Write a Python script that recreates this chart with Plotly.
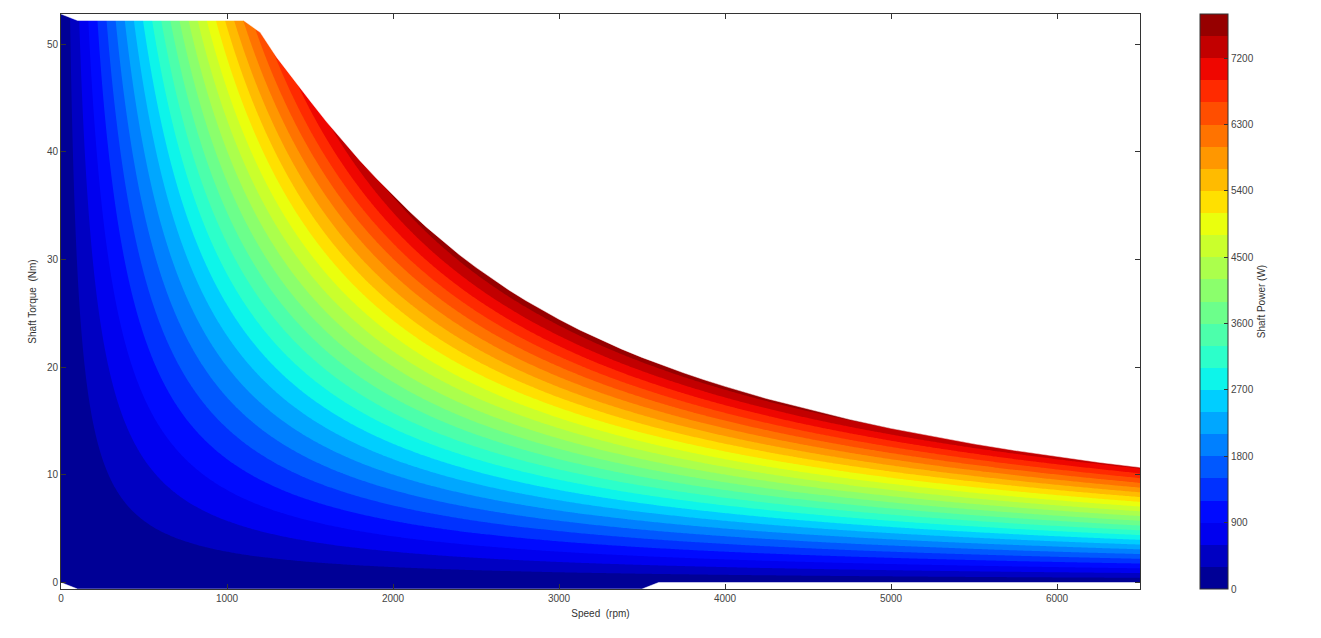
import numpy as np
import plotly.graph_objects as go

# ---- data ----
# upper edge of the operating envelope (max shaft torque, Nm, vs speed, rpm)
env_speed = [0, 100, 1100, 1200, 1300, 1400, 1500, 1600, 1700, 1800, 1900, 2000,
             2100, 2200, 2300, 2400, 2500, 2600, 2700, 2800, 2900, 3000, 3125, 3250,
             3375, 3500, 3625, 3750, 3875, 4000, 4250, 4500, 4750, 5000, 5250, 5500,
             5750, 6000, 6250, 6500]
env_torque_max = [52.8, 52.2, 52.2, 51.1, 48.77, 46.72, 44.75, 42.79, 40.95, 39.2, 37.54, 35.95,
                  34.45, 33.03, 31.69, 30.44, 29.27, 28.17, 27.15, 26.19, 25.29, 24.45, 23.46, 22.55,
                  21.7, 20.91, 20.17, 19.48, 18.83, 18.22, 17.09, 16.09, 15.16, 14.32, 13.57, 12.88,
                  12.26, 11.68, 11.17, 10.7]
# lower edge of the envelope
low_speed = [0, 100, 3500, 3600, 6500]
low_torque = [0.0, -0.6, -0.6, 0.0, 0.0]

power_start, power_end, power_step = 0, 7800, 300
cbar_ticks = [0, 900, 1800, 2700, 3600, 4500, 5400, 6300, 7200]
x_ticks = [0, 1000, 2000, 3000, 4000, 5000, 6000]
y_ticks = [0, 10, 20, 30, 40, 50]
speed_range = [0, 6500]
torque_range = [-0.6, 52.8]

# ---- shaft power field P = T * omega ----
speed = np.linspace(speed_range[0], speed_range[1], 521)
torque = np.linspace(torque_range[0], torque_range[1], 357)
power = np.outer(torque, speed) * 2 * np.pi / 60.0


# matplotlib 'jet' colormap
def jet(v):
    v = min(max(v, 0.0), 1.0)
    r = np.interp(v, [0, 0.35, 0.66, 0.89, 1], [0, 0, 1, 1, 0.5])
    g = np.interp(v, [0, 0.125, 0.375, 0.64, 0.91, 1], [0, 0, 1, 1, 0, 0])
    b = np.interp(v, [0, 0.11, 0.34, 0.65, 1], [0.5, 1, 1, 0, 0])
    return "rgb(%d,%d,%d)" % (round(r * 255), round(g * 255), round(b * 255))


span = power_end - power_start
nband = int(span / power_step)

# colorscale for the contour fills (plotly samples it at band mid-points)
nlev = nband + 1
contour_scale = []
for k in range(nlev + 1):
    mid = power_start - power_step / 2 + k * power_step
    mid = min(max(mid, power_start + power_step / 2), power_end - power_step / 2)
    contour_scale.append([k / nlev, jet((mid - power_start) / span)])

# stepped colorscale for the colour bar (0 .. 7800, 26 bands)
bar_scale = []
for i in range(nband):
    c = jet((i + 0.5) / nband)
    bar_scale.append([i / nband, c])
    bar_scale.append([(i + 1) / nband, c])

font_family = "Liberation Sans, Arial, sans-serif"

fig = go.Figure()
fig.add_trace(go.Contour(
    x=speed, y=torque, z=power,
    contours=dict(start=power_start, end=power_end, size=power_step,
                  coloring="fill", showlines=False),
    line=dict(width=0),
    colorscale=contour_scale,
    showscale=False,
    hoverinfo="skip",
))

# white masks outside the operating envelope
top_pad = torque_range[1] + 10
bot_pad = torque_range[0] - 10
fig.add_trace(go.Scatter(
    x=env_speed + [speed_range[1], speed_range[0]],
    y=env_torque_max + [top_pad, top_pad],
    fill="toself", fillcolor="white", mode="lines",
    line=dict(width=0.5, color="white"), hoverinfo="skip", showlegend=False))
fig.add_trace(go.Scatter(
    x=low_speed + [speed_range[1], speed_range[0]],
    y=low_torque + [bot_pad, bot_pad],
    fill="toself", fillcolor="white", mode="lines",
    line=dict(width=0.5, color="white"), hoverinfo="skip", showlegend=False))

# colour bar carrier (invisible markers)
fig.add_trace(go.Scatter(
    x=[speed_range[0], speed_range[0]], y=[torque_range[0], torque_range[0]],
    mode="markers", hoverinfo="skip", showlegend=False,
    marker=dict(size=1, opacity=0, color=[power_start, power_end],
                cmin=power_start, cmax=power_end, colorscale=bar_scale,
                showscale=True,
                colorbar=dict(
                    x=1.0556, xanchor="left", y=0.5, yanchor="middle",
                    len=1.0, lenmode="fraction", thickness=28, thicknessmode="pixels",
                    xpad=0, ypad=0,
                    outlinewidth=1, outlinecolor="#333",
                    tickmode="array", tickvals=cbar_ticks,
                    ticks="inside", ticklen=4, tickcolor="#333",
                    tickfont=dict(size=10, color="#444", family=font_family),
                    title=dict(text="Shaft Power (W)", side="right",
                               font=dict(size=10, color="#333", family=font_family)),
                ))))

axis_common = dict(
    showgrid=False, zeroline=False, showline=True, linecolor="#333", linewidth=1,
    mirror="ticks", ticks="inside", ticklen=5, tickcolor="#333",
    tickfont=dict(size=10, color="#444", family=font_family),
)
# the page body adds an 8px offset, so the figure is 8px smaller
fig.update_layout(
    width=1313, height=630,
    margin=dict(l=53, r=181, t=6, b=49, autoexpand=False),
    paper_bgcolor="white", plot_bgcolor="white",
    showlegend=False,
    xaxis=dict(range=speed_range, tickvals=x_ticks,
               title=dict(text="Speed  (rpm)", standoff=6,
                          font=dict(size=10, color="#333", family=font_family)),
               **axis_common),
    yaxis=dict(range=torque_range, tickvals=y_ticks,
               title=dict(text="Shaft Torque  (Nm)", standoff=8,
                          font=dict(size=10, color="#333", family=font_family)),
               **axis_common),
)

fig.write_html("out.html")
